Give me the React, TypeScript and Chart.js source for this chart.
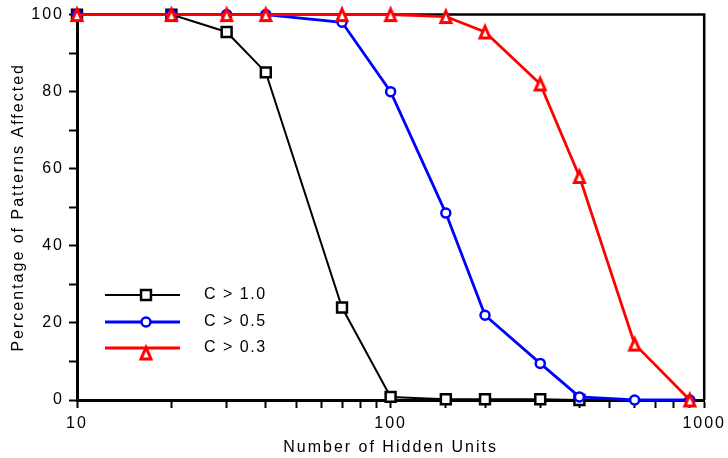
import React, { useEffect, useRef } from 'react';
import { Chart, registerables } from 'chart.js';

Chart.register(...registerables);

// ---- data ----
const unitsC10 = [10, 20, 30, 40, 70, 100, 150, 200, 300, 400];
const pctC10 = [100, 100, 95.5, 85, 24, 0.8, 0.2, 0.2, 0.2, 0];
const unitsC05 = [10, 20, 30, 40, 70, 100, 150, 200, 300, 400, 600, 900];
const pctC05 = [100, 100, 100, 100, 98, 80, 48.5, 22, 9.5, 0.8, 0, 0];
const unitsC03 = [10, 20, 30, 40, 70, 100, 150, 200, 300, 400, 600, 900];
const pctC03 = [100, 100, 100, 100, 100, 100, 99.5, 95.5, 82, 58, 14.5, 0];
const seriesLabels = ['C > 1.0', 'C > 0.5', 'C > 0.3'];
const xTickLabels = [10, 100, 1000];
const yTickLabels = [0, 20, 40, 60, 80, 100];
const xTitle = 'Number of Hidden Units';
const yTitle = 'Percentage of Patterns Affected';

const FONT = "'Liberation Sans', Arial, Helvetica, sans-serif";

const toPoints = (xs: number[], ys: number[]) => xs.map((x, i) => ({ x, y: ys[i] }));

function makeTriangle(): HTMLCanvasElement {
  const c = document.createElement('canvas');
  c.width = 16;
  c.height = 19;
  const ctx = c.getContext('2d')!;
  ctx.fillStyle = '#ffffff';
  ctx.strokeStyle = '#ff0000';
  ctx.lineWidth = 3;
  ctx.lineJoin = 'miter';
  ctx.beginPath();
  ctx.moveTo(8, 4);
  ctx.lineTo(13, 15.5);
  ctx.lineTo(3, 15.5);
  ctx.closePath();
  ctx.fill();
  ctx.stroke();
  return c;
}

type Style = { color: string; width: number; shape: any; radius: number; bw: number };

export default function App() {
  const ref = useRef<HTMLCanvasElement>(null);

  useEffect(() => {
    document.body.style.margin = '0';
    Chart.defaults.font.family = FONT;
    Chart.defaults.font.size = 16;
    Chart.defaults.color = '#000';

    const tri = makeTriangle();
    const styles: Style[] = [
      { color: '#000000', width: 2, shape: 'rect', radius: 7, bw: 2.5 },
      { color: '#0000ff', width: 2.8, shape: 'circle', radius: 4.5, bw: 2.5 },
      { color: '#ff0000', width: 2.8, shape: tri, radius: 7, bw: 2.5 },
    ];

    const drawMarker = (ctx: CanvasRenderingContext2D, st: Style, x: number, y: number) => {
      if (st.shape === tri) {
        ctx.drawImage(tri, x - tri.width / 2, y - tri.height / 2);
        return;
      }
      ctx.fillStyle = '#fff';
      ctx.strokeStyle = st.color;
      ctx.lineWidth = st.bw;
      ctx.beginPath();
      if (st.shape === 'rect') {
        const s = Math.SQRT1_2 * st.radius;
        ctx.rect(x - s, y - s, 2 * s, 2 * s);
      } else {
        ctx.arc(x, y, st.radius, 0, Math.PI * 2);
      }
      ctx.fill();
      ctx.stroke();
    };

    const spacingPlugin = {
      id: 'spacing',
      beforeDraw(chart: any) {
        (chart.ctx as any).letterSpacing = '2px';
      },
    };

    const framePlugin = {
      id: 'frame',
      beforeDatasetsDraw(chart: any) {
        const { ctx, chartArea } = chart;
        ctx.save();
        ctx.strokeStyle = '#000';
        ctx.lineWidth = 2.5;
        ctx.beginPath();
        ctx.moveTo(chartArea.left, chartArea.top);
        ctx.lineTo(chartArea.right, chartArea.top);
        ctx.lineTo(chartArea.right, chartArea.bottom);
        ctx.stroke();
        ctx.restore();
      },
    };

    const legendPlugin = {
      id: 'insideLegend',
      afterDatasetsDraw(chart: any) {
        const ctx: CanvasRenderingContext2D = chart.ctx;
        const rows = [295, 322, 348];
        ctx.save();
        seriesLabels.forEach((label, i) => {
          const st = styles[i];
          const y = rows[i];
          ctx.strokeStyle = st.color;
          ctx.lineWidth = st.width;
          ctx.beginPath();
          ctx.moveTo(105, y);
          ctx.lineTo(180, y);
          ctx.stroke();
          const my = st.shape === tri ? y + 5 : y;
          drawMarker(ctx, st, 146, my);
          ctx.fillStyle = '#000';
          ctx.font = `16px ${FONT}`;
          (ctx as any).letterSpacing = '1.5px';
          ctx.textAlign = 'left';
          ctx.textBaseline = 'middle';
          ctx.fillText(label, 204, y);
        });
        ctx.restore();
      },
    };

    const isDecade = (v: number) => Math.abs(Math.log10(v) - Math.round(Math.log10(v))) < 1e-6;

    const seriesData = [
      toPoints(unitsC10, pctC10),
      toPoints(unitsC05, pctC05),
      toPoints(unitsC03, pctC03),
    ];

    const chart = new Chart(ref.current!, {
      type: 'line',
      data: {
        datasets: seriesData.map((d, i) => ({
          label: seriesLabels[i],
          data: d,
          borderColor: styles[i].color,
          borderWidth: styles[i].width,
          pointStyle: styles[i].shape,
          pointRadius: styles[i].radius,
          pointBorderWidth: styles[i].bw,
          pointBorderColor: styles[i].color,
          pointBackgroundColor: '#ffffff',
          tension: 0,
          fill: false,
          clip: false as any,
          order: 3 - i,
        })),
      },
      options: {
        responsive: false,
        animation: false,
        events: [],
        layout: { padding: { top: 14, right: 21, left: 0, bottom: 0 } },
        plugins: { legend: { display: false }, tooltip: { enabled: false } },
        scales: {
          x: {
            type: 'logarithmic',
            min: 10,
            max: 1000,
            afterFit: (s: any) => {
              s.height = 58;
            },
            border: { display: true, color: '#000', width: 3 },
            grid: {
              drawOnChartArea: false,
              drawTicks: true,
              tickLength: 8,
              tickWidth: 2,
              tickColor: '#000',
            },
            ticks: {
              autoSkip: false,
              maxRotation: 0,
              padding: 6,
              color: '#000',
              font: { size: 16, family: FONT },
              callback: (v: any) => {
                const n = Number(v);
                return isDecade(n) && xTickLabels.some((t) => Math.abs(t - n) < 1e-6) ? String(Math.round(n)) : '';
              },
            },
            title: {
              display: true,
              text: xTitle,
              color: '#000',
              font: { size: 16, family: FONT },
              padding: { top: 0, bottom: 1 },
            },
          },
          y: {
            type: 'linear',
            min: 0,
            max: 100,
            afterFit: (s: any) => {
              s.width = 77;
            },
            border: { display: true, color: '#000', width: 3 },
            grid: {
              drawOnChartArea: false,
              drawTicks: true,
              tickLength: 8,
              tickWidth: 2,
              tickColor: '#000',
            },
            ticks: {
              stepSize: 10,
              autoSkip: false,
              padding: 5,
              color: '#000',
              font: { size: 16, family: FONT },
              callback: (v: any) => (yTickLabels.includes(Number(v)) ? String(v) : ''),
            },
            title: {
              display: true,
              text: yTitle,
              color: '#000',
              font: { size: 16, family: FONT },
              padding: { top: 9, bottom: 0 },
            },
          },
        },
      } as any,
      plugins: [spacingPlugin, framePlugin, legendPlugin],
    });

    return () => chart.destroy();
  }, []);

  return <canvas ref={ref} width={728} height={458} style={{ display: 'block' }} />;
}
